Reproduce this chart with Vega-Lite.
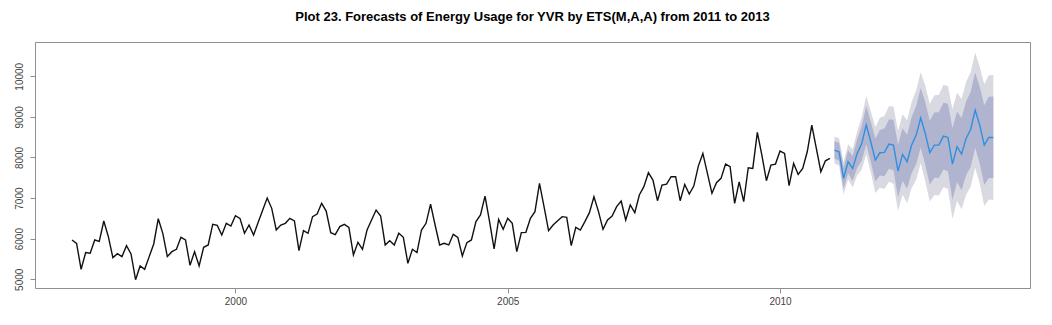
{
  "$schema": "https://vega.github.io/schema/vega-lite/v6.json",
  "autosize": {"type": "none"},
  "width": 995,
  "height": 246,
  "padding": {"left": 35, "top": 42, "right": 22, "bottom": 37},
  "background": "white",
  "title": {"text": "Plot 23. Forecasts of Energy Usage for YVR by ETS(M,A,A) from 2011 to 2013", "font": "Liberation Sans", "fontSize": 13, "fontWeight": "bold", "color": "#000000", "anchor": "middle", "offset": 18},
  "datasets": {
    "hist": [
      {"t":1997,"v":5968},{"t":1997.0833,"v":5885},{"t":1997.1667,"v":5246},{"t":1997.25,"v":5656},{"t":1997.3333,"v":5640},{"t":1997.4167,"v":5968},{"t":1997.5,"v":5935},{"t":1997.5833,"v":6435},{"t":1997.6667,"v":6050},{"t":1997.75,"v":5533},{"t":1997.8333,"v":5631},{"t":1997.9167,"v":5558},
      {"t":1998,"v":5828},{"t":1998.0833,"v":5623},{"t":1998.1667,"v":4990},{"t":1998.25,"v":5328},{"t":1998.3333,"v":5246},{"t":1998.4167,"v":5558},{"t":1998.5,"v":5870},{"t":1998.5833,"v":6492},{"t":1998.6667,"v":6132},{"t":1998.75,"v":5558},{"t":1998.8333,"v":5680},{"t":1998.9167,"v":5738},
      {"t":1999,"v":6033},{"t":1999.0833,"v":5968},{"t":1999.1667,"v":5344},{"t":1999.25,"v":5680},{"t":1999.3333,"v":5328},{"t":1999.4167,"v":5787},{"t":1999.5,"v":5845},{"t":1999.5833,"v":6353},{"t":1999.6667,"v":6328},{"t":1999.75,"v":6090},{"t":1999.8333,"v":6378},{"t":1999.9167,"v":6312},
      {"t":2000,"v":6566},{"t":2000.0833,"v":6500},{"t":2000.1667,"v":6132},{"t":2000.25,"v":6337},{"t":2000.3333,"v":6090},{"t":2000.4167,"v":6400},{"t":2000.5,"v":6700},{"t":2000.5833,"v":7000},{"t":2000.6667,"v":6747},{"t":2000.75,"v":6214},{"t":2000.8333,"v":6337},{"t":2000.9167,"v":6378},
      {"t":2001,"v":6500},{"t":2001.0833,"v":6435},{"t":2001.1667,"v":5705},{"t":2001.25,"v":6197},{"t":2001.3333,"v":6132},{"t":2001.4167,"v":6542},{"t":2001.5,"v":6607},{"t":2001.5833,"v":6870},{"t":2001.6667,"v":6681},{"t":2001.75,"v":6148},{"t":2001.8333,"v":6099},{"t":2001.9167,"v":6296},
      {"t":2002,"v":6353},{"t":2002.0833,"v":6279},{"t":2002.1667,"v":5599},{"t":2002.25,"v":5910},{"t":2002.3333,"v":5738},{"t":2002.4167,"v":6214},{"t":2002.5,"v":6460},{"t":2002.5833,"v":6706},{"t":2002.6667,"v":6558},{"t":2002.75,"v":5845},{"t":2002.8333,"v":5951},{"t":2002.9167,"v":5845},
      {"t":2003,"v":6132},{"t":2003.0833,"v":6033},{"t":2003.1667,"v":5394},{"t":2003.25,"v":5738},{"t":2003.3333,"v":5656},{"t":2003.4167,"v":6214},{"t":2003.5,"v":6378},{"t":2003.5833,"v":6853},{"t":2003.6667,"v":6337},{"t":2003.75,"v":5845},{"t":2003.8333,"v":5886},{"t":2003.9167,"v":5845},
      {"t":2004,"v":6107},{"t":2004.0833,"v":6033},{"t":2004.1667,"v":5574},{"t":2004.25,"v":5902},{"t":2004.3333,"v":5968},{"t":2004.4167,"v":6419},{"t":2004.5,"v":6583},{"t":2004.5833,"v":7050},{"t":2004.6667,"v":6419},{"t":2004.75,"v":5746},{"t":2004.8333,"v":6476},{"t":2004.9167,"v":6230},
      {"t":2005,"v":6501},{"t":2005.0833,"v":6378},{"t":2005.1667,"v":5681},{"t":2005.25,"v":6148},{"t":2005.3333,"v":6156},{"t":2005.4167,"v":6501},{"t":2005.5,"v":6665},{"t":2005.5833,"v":7362},{"t":2005.6667,"v":6788},{"t":2005.75,"v":6197},{"t":2005.8333,"v":6337},{"t":2005.9167,"v":6443},
      {"t":2006,"v":6542},{"t":2006.0833,"v":6525},{"t":2006.1667,"v":5828},{"t":2006.25,"v":6279},{"t":2006.3333,"v":6214},{"t":2006.4167,"v":6419},{"t":2006.5,"v":6640},{"t":2006.5833,"v":7034},{"t":2006.6667,"v":6665},{"t":2006.75,"v":6230},{"t":2006.8333,"v":6460},{"t":2006.9167,"v":6558},
      {"t":2007,"v":6788},{"t":2007.0833,"v":6927},{"t":2007.1667,"v":6460},{"t":2007.25,"v":6829},{"t":2007.3333,"v":6640},{"t":2007.4167,"v":7075},{"t":2007.5,"v":7280},{"t":2007.5833,"v":7624},{"t":2007.6667,"v":7444},{"t":2007.75,"v":6935},{"t":2007.8333,"v":7321},{"t":2007.9167,"v":7345},
      {"t":2008,"v":7526},{"t":2008.0833,"v":7526},{"t":2008.1667,"v":6935},{"t":2008.25,"v":7337},{"t":2008.3333,"v":7099},{"t":2008.4167,"v":7296},{"t":2008.5,"v":7788},{"t":2008.5833,"v":8100},{"t":2008.6667,"v":7608},{"t":2008.75,"v":7116},{"t":2008.8333,"v":7378},{"t":2008.9167,"v":7485},
      {"t":2009,"v":7837},{"t":2009.0833,"v":7772},{"t":2009.1667,"v":6870},{"t":2009.25,"v":7400},{"t":2009.3333,"v":6911},{"t":2009.4167,"v":7747},{"t":2009.5,"v":7731},{"t":2009.5833,"v":8616},{"t":2009.6667,"v":8059},{"t":2009.75,"v":7427},{"t":2009.8333,"v":7813},{"t":2009.9167,"v":7837},
      {"t":2010,"v":8157},{"t":2010.0833,"v":8100},{"t":2010.1667,"v":7304},{"t":2010.25,"v":7854},{"t":2010.3333,"v":7583},{"t":2010.4167,"v":7731},{"t":2010.5,"v":8141},{"t":2010.5833,"v":8797},{"t":2010.6667,"v":8223},{"t":2010.75,"v":7649},{"t":2010.8333,"v":7919},{"t":2010.9167,"v":7977}
    ],
    "fc": [
      {"t":2011,"f":8182,"lo80":7966,"hi80":8398,"lo95":7852,"hi95":8512},
      {"t":2011.0833,"f":8141,"lo80":7919,"hi80":8363,"lo95":7801,"hi95":8481},
      {"t":2011.1667,"f":7485,"lo80":7223,"hi80":7747,"lo95":7085,"hi95":7885},
      {"t":2011.25,"f":7895,"lo80":7614,"hi80":8176,"lo95":7465,"hi95":8325},
      {"t":2011.3333,"f":7731,"lo80":7424,"hi80":8038,"lo95":7261,"hi95":8201},
      {"t":2011.4167,"f":8100,"lo80":7747,"hi80":8453,"lo95":7560,"hi95":8640},
      {"t":2011.5,"f":8346,"lo80":7921,"hi80":8771,"lo95":7696,"hi95":8996},
      {"t":2011.5833,"f":8797,"lo80":8326,"hi80":9268,"lo95":8077,"hi95":9517},
      {"t":2011.6667,"f":8387,"lo80":7896,"hi80":8878,"lo95":7637,"hi95":9137},
      {"t":2011.75,"f":7936,"lo80":7406,"hi80":8466,"lo95":7126,"hi95":8746},
      {"t":2011.8333,"f":8116,"lo80":7554,"hi80":8678,"lo95":7256,"hi95":8976},
      {"t":2011.9167,"f":8124,"lo80":7535,"hi80":8713,"lo95":7224,"hi95":9024},
      {"t":2012,"f":8329,"lo80":7721,"hi80":8937,"lo95":7399,"hi95":9259},
      {"t":2012.0833,"f":8305,"lo80":7684,"hi80":8926,"lo95":7355,"hi95":9255},
      {"t":2012.1667,"f":7665,"lo80":7018,"hi80":8312,"lo95":6675,"hi95":8655},
      {"t":2012.25,"f":8075,"lo80":7428,"hi80":8722,"lo95":7085,"hi95":9065},
      {"t":2012.3333,"f":7895,"lo80":7228,"hi80":8562,"lo95":6875,"hi95":8915},
      {"t":2012.4167,"f":8305,"lo80":7612,"hi80":8998,"lo95":7245,"hi95":9365},
      {"t":2012.5,"f":8551,"lo80":7832,"hi80":9270,"lo95":7451,"hi95":9651},
      {"t":2012.5833,"f":8977,"lo80":8245,"hi80":9709,"lo95":7857,"hi95":10097},
      {"t":2012.6667,"f":8592,"lo80":7820,"hi80":9364,"lo95":7412,"hi95":9772},
      {"t":2012.75,"f":8116,"lo80":7331,"hi80":8901,"lo95":6916,"hi95":9316},
      {"t":2012.8333,"f":8305,"lo80":7501,"hi80":9109,"lo95":7075,"hi95":9535},
      {"t":2012.9167,"f":8305,"lo80":7494,"hi80":9116,"lo95":7065,"hi95":9545},
      {"t":2013,"f":8526,"lo80":7702,"hi80":9350,"lo95":7266,"hi95":9786},
      {"t":2013.0833,"f":8493,"lo80":7662,"hi80":9324,"lo95":7223,"hi95":9763},
      {"t":2013.1667,"f":7837,"lo80":6954,"hi80":8720,"lo95":6487,"hi95":9187},
      {"t":2013.25,"f":8264,"lo80":7394,"hi80":9134,"lo95":6934,"hi95":9594},
      {"t":2013.3333,"f":8083,"lo80":7194,"hi80":8972,"lo95":6723,"hi95":9443},
      {"t":2013.4167,"f":8469,"lo80":7560,"hi80":9378,"lo95":7079,"hi95":9859},
      {"t":2013.5,"f":8690,"lo80":7768,"hi80":9612,"lo95":7280,"hi95":10100},
      {"t":2013.5833,"f":9166,"lo80":8237,"hi80":10095,"lo95":7746,"hi95":10586},
      {"t":2013.6667,"f":8797,"lo80":7855,"hi80":9739,"lo95":7357,"hi95":10237},
      {"t":2013.75,"f":8305,"lo80":7324,"hi80":9286,"lo95":6805,"hi95":9805},
      {"t":2013.8333,"f":8493,"lo80":7492,"hi80":9494,"lo95":6963,"hi95":10023},
      {"t":2013.9167,"f":8493,"lo80":7486,"hi80":9500,"lo95":6953,"hi95":10033}
    ]
  },
  "encoding": {
    "x": {"field": "t", "type": "quantitative", "scale": {"domain": [1996.32, 2014.59], "nice": false, "zero": false}, "axis": {"values": [2000, 2005, 2010], "format": "d", "title": null, "labelPadding": 3}}
  },
  "layer": [
    {
      "data": {"name": "fc"},
      "mark": {"type": "area", "color": "#D9D9E2", "opacity": 1},
      "encoding": {
        "y": {"field": "lo95", "type": "quantitative", "scale": {"domain": [4785, 10844], "nice": false, "zero": false}, "axis": {"values": [5000, 6000, 7000, 8000, 9000, 10000], "format": "d", "title": null, "labelAngle": 270, "labelAlign": "center", "labelBaseline": "bottom", "labelPadding": 6}},
        "y2": {"field": "hi95"}
      }
    },
    {
      "data": {"name": "fc"},
      "mark": {"type": "area", "color": "#B0B4CF", "opacity": 1},
      "encoding": {
        "y": {"field": "lo80", "type": "quantitative", "scale": {"domain": [4785, 10844], "nice": false, "zero": false}, "axis": {"values": [5000, 6000, 7000, 8000, 9000, 10000], "format": "d", "title": null, "labelAngle": 270, "labelAlign": "center", "labelBaseline": "bottom", "labelPadding": 6}},
        "y2": {"field": "hi80"}
      }
    },
    {
      "data": {"name": "fc"},
      "mark": {"type": "line", "color": "#2F8FE0", "strokeWidth": 1.4},
      "encoding": {
        "y": {"field": "f", "type": "quantitative", "scale": {"domain": [4785, 10844], "nice": false, "zero": false}, "axis": {"values": [5000, 6000, 7000, 8000, 9000, 10000], "format": "d", "title": null, "labelAngle": 270, "labelAlign": "center", "labelBaseline": "bottom", "labelPadding": 6}}
      }
    },
    {
      "data": {"name": "hist"},
      "mark": {"type": "line", "color": "#111111", "strokeWidth": 1.4},
      "encoding": {
        "y": {"field": "v", "type": "quantitative", "scale": {"domain": [4785, 10844], "nice": false, "zero": false}, "axis": {"values": [5000, 6000, 7000, 8000, 9000, 10000], "format": "d", "title": null, "labelAngle": 270, "labelAlign": "center", "labelBaseline": "bottom", "labelPadding": 6}}
      }
    }
  ],
  "config": {
    "view": {"stroke": "#8f8f8f", "strokeWidth": 1},
    "axis": {"domain": false, "grid": false, "labelFont": "Liberation Sans", "labelFontSize": 10, "labelColor": "#444444", "tickColor": "#8f8f8f", "tickSize": 5}
  }
}
